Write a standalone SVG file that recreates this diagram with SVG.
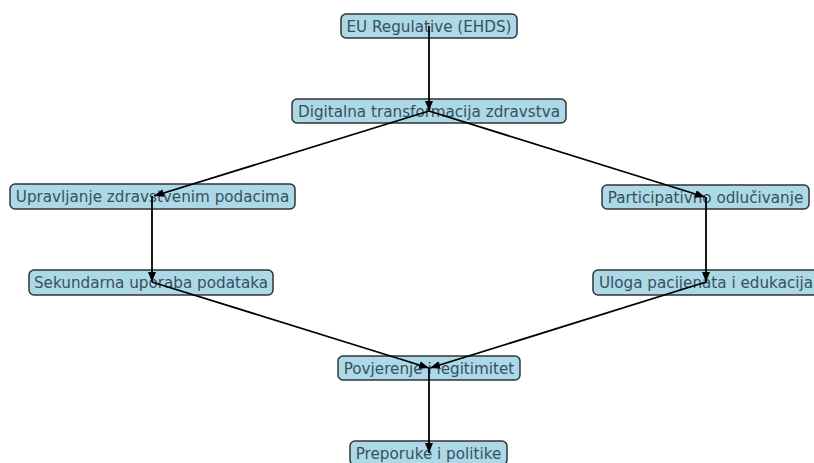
<svg xmlns="http://www.w3.org/2000/svg" width="814" height="463" viewBox="0 0 814 463">
  <style>
    .box { fill: #add8e6; stroke: #2f3338; stroke-width: 1.5; }
    .lbl { font-family: "DejaVu Sans", sans-serif; font-size: 15.2px; fill: #36505f; text-anchor: middle; dominant-baseline: central; }
    .edge { stroke: #000; stroke-width: 1.8; fill: none; marker-end: url(#arrow); }
  </style>
  <defs>
    <marker id="arrow" viewBox="0 0 10 10" refX="10" refY="5" markerWidth="10" markerHeight="10" markerUnits="userSpaceOnUse" orient="auto">
      <path d="M0,1 L10,5 L0,9 Z" fill="#000"/>
    </marker>
  </defs>
  <rect width="814" height="463" fill="#fff"/>

  <g id="n-eu">
    <rect class="box" x="341" y="14" width="176" height="24" rx="5"/>
    <text class="lbl" x="429" y="26.5">EU Regulative (EHDS)</text>
  </g>
  <g id="n-digital">
    <rect class="box" x="292" y="99" width="274" height="24" rx="5"/>
    <text class="lbl" x="429" y="111.5">Digitalna transformacija zdravstva</text>
  </g>
  <g id="n-upravljanje">
    <rect class="box" x="10" y="184" width="285" height="25" rx="5"/>
    <text class="lbl" x="152.5" y="197">Upravljanje zdravstvenim podacima</text>
  </g>
  <g id="n-participativno">
    <rect class="box" x="602" y="185" width="207" height="24" rx="5"/>
    <text class="lbl" x="705.5" y="197.5">Participativno odlučivanje</text>
  </g>
  <g id="n-sekundarna">
    <rect class="box" x="29" y="270" width="244" height="25" rx="5"/>
    <text class="lbl" x="151" y="283">Sekundarna uporaba podataka</text>
  </g>
  <g id="n-uloga">
    <rect class="box" x="593" y="270" width="226" height="25" rx="5"/>
    <text class="lbl" x="706" y="283">Uloga pacijenata i edukacija</text>
  </g>
  <g id="n-povjerenje">
    <rect class="box" x="338" y="356" width="182" height="24" rx="5"/>
    <text class="lbl" x="429" y="368.5">Povjerenje i legitimitet</text>
  </g>
  <g id="n-preporuke">
    <rect class="box" x="350" y="441" width="157" height="24" rx="5"/>
    <text class="lbl" x="428.5" y="453.5">Preporuke i politike</text>
  </g>

  <g id="edges">
    <line class="edge" x1="429" y1="26" x2="429" y2="111"/>
    <line class="edge" x1="429" y1="111" x2="154" y2="196"/>
    <line class="edge" x1="429" y1="111" x2="705" y2="197"/>
    <line class="edge" x1="152" y1="196" x2="152" y2="282"/>
    <line class="edge" x1="706" y1="197" x2="706" y2="282"/>
    <line class="edge" x1="152" y1="282" x2="429" y2="368"/>
    <line class="edge" x1="706" y1="282" x2="430" y2="368"/>
    <line class="edge" x1="429" y1="368" x2="429" y2="453"/>
  </g>
</svg>
